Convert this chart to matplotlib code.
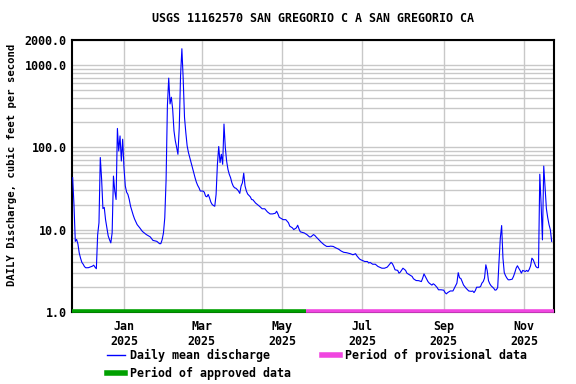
import numpy as np
import pandas as pd
import matplotlib
matplotlib.use('Agg')
import matplotlib.pyplot as plt
from matplotlib.lines import Line2D
from matplotlib.ticker import LogLocator, NullFormatter

# daily mean discharge (day offset from 2024-11-23, cfs)
day_offset = [0, 1, 2, 3, 4, 5, 6, 7, 8, 9, 10, 12, 13, 15, 16, 17, 18, 19, 20, 21,
              22, 23, 24, 25, 26, 27, 28, 29, 30, 31, 32, 33, 34, 35, 36, 37, 38, 39, 40, 41,
              42, 43, 44, 45, 46, 47, 49, 51, 53, 56, 59, 61, 64, 66, 67, 68, 69, 70, 71, 72,
              73, 74, 75, 76, 77, 78, 79, 80, 81, 82, 83, 84, 85, 86, 87, 88, 89, 90, 91, 92,
              93, 94, 95, 96, 97, 99, 100, 101, 102, 103, 104, 105, 106, 107, 108, 109, 110, 111, 112, 113,
              114, 115, 116, 117, 118, 119, 120, 121, 122, 123, 124, 125, 126, 127, 128, 129, 130, 131, 132, 133,
              135, 136, 137, 139, 141, 142, 144, 146, 148, 150, 152, 154, 155, 156, 157, 160, 162, 164, 165, 167,
              168, 170, 171, 172, 173, 176, 178, 180, 181, 183, 184, 185, 187, 189, 191, 193, 195, 196, 198, 200,
              202, 204, 206, 208, 211, 213, 215, 216, 218, 219, 222, 224, 225, 226, 228, 230, 232, 235, 237, 239,
              240, 242, 243, 244, 245, 247, 248, 249, 251, 252, 253, 254, 256, 258, 259, 261, 263, 265, 266, 267,
              268, 270, 271, 273, 274, 275, 277, 278, 280, 282, 283, 284, 285, 287, 289, 290, 292, 293, 294, 295,
              296, 297, 299, 301, 303, 304, 305, 306, 307, 309, 310, 311, 312, 313, 314, 315, 316, 317, 318, 320,
              321, 322, 323, 324, 325, 326, 327, 328, 329, 330, 331, 332, 334, 335, 336, 337, 338, 339, 340, 341,
              342, 344, 345, 346, 347, 348, 349, 350, 351, 352, 353, 354, 355, 356, 357, 358, 359, 360, 361, 362,
              363, 364]
discharge = [42.7, 20, 7.2, 7.6, 6.7, 5.2, 4.5, 4.0, 3.8, 3.55, 3.44, 3.45, 3.5, 3.6, 3.7, 3.5, 3.35, 8.7, 12.1, 75,
             41, 18, 18.6, 13.2, 10.5, 8.4, 7.55, 6.9, 9.1, 44.6, 29.4, 23.2, 169, 90, 137, 68, 125, 56.5, 33.8, 28.5,
             26.7, 23.2, 19.2, 17, 15, 13.5, 11.5, 10.5, 9.5, 8.7, 8.15, 7.4, 7.2, 6.75, 6.75, 7.55, 9.1, 13.9, 40, 319,
             689, 335, 404, 290, 158, 120, 100, 82, 173, 741, 1567, 676, 230, 150, 104, 86, 75, 65, 56.5, 49.2,
             42.7, 37.7, 34.4, 32.2, 29.4, 29.4, 28.5, 25.5, 25, 26.7, 24.3, 21.6, 20.2, 19.6, 19.2, 26.7, 62, 102, 65, 82,
             62, 191, 99, 68, 54, 47, 42.7, 37, 33.8, 32.2, 31.8, 30.7, 29.4, 27.5, 33.8, 37, 48.4, 33.8, 29.4, 27,
             25, 23.2, 23, 21, 19.8, 19.2, 17.9, 17.9, 16.4, 15.5, 15.5, 15.8, 16.7, 15.5, 14.1, 13.2, 13.2, 12.1, 11, 10.5,
             10, 10.5, 11.3, 10.2, 9.4, 9.1, 8.7, 8.15, 8.15, 8.7, 8.5, 8.15, 7.55, 7.0, 6.56, 6.25, 6.25, 6.3, 6.25, 6.0,
             5.8, 5.5, 5.3, 5.25, 5.1, 4.95, 5.1, 4.8, 4.4, 4.3, 4.1, 4.1, 3.93, 4.0, 3.8, 3.8, 3.57, 3.4, 3.4, 3.5,
             3.65, 4.0, 3.85, 3.57, 3.25, 3.2, 2.96, 3.05, 3.4, 3.3, 3.2, 2.96, 2.83, 2.7, 2.53, 2.41, 2.4, 2.34, 2.58, 2.9,
             2.7, 2.34, 2.24, 2.12, 2.2, 2.15, 1.98, 1.86, 1.86, 1.84, 1.72, 1.66, 1.72, 1.8, 1.8, 1.94, 2.24, 3.0, 2.6, 2.55,
             2.34, 2.13, 1.94, 1.8, 1.78, 1.8, 1.72, 1.82, 2.0, 2.0, 2.04, 2.24, 2.34, 2.58, 3.74, 3.2, 2.4, 2.2, 2.08, 1.94,
             1.84, 1.86, 1.98, 4.1, 7.9, 11.2, 4.5, 3.0, 2.75, 2.58, 2.46, 2.46, 2.5, 2.7, 3.0, 3.4, 3.64, 3.4, 3.2, 2.96,
             3.2, 3.1, 3.2, 3.1, 3.3, 3.64, 4.5, 4.3, 3.93, 3.57, 3.45, 3.45, 47, 20, 7.5, 59, 32, 18, 14, 11.5,
             10, 7.2]

start_date = '2024-11-23'
approved_end = '2025-05-19'
end_date = '2025-11-23'
month_ticks = ['2025-01-01', '2025-03-01', '2025-05-01', '2025-07-01', '2025-09-01', '2025-11-01']
month_labels = ['Jan\n2025', 'Mar\n2025', 'May\n2025', 'Jul\n2025', 'Sep\n2025', 'Nov\n2025']
y_ticks = [1, 10, 100, 1000, 2000]
y_labels = ['1.0', '10.0', '100.0', '1000.0', '2000.0']

plt.rcParams['font.family'] = ['DejaVu Sans Mono']
plt.rcParams['font.weight'] = 'bold'
fs = 8.4

start = pd.Timestamp(start_date)
dates = start + pd.to_timedelta(day_offset, unit='D')
x_left = start - pd.Timedelta(hours=12)
x_right = pd.Timestamp(end_date) + pd.Timedelta(hours=19)

fig = plt.figure(figsize=(5.76, 3.84), dpi=100)
ax = fig.add_axes([72/576, 1 - 312/384, 482/576, 272/384])

ax.plot(dates, discharge, color='#0000ff', lw=0.8, zorder=3)

ax.set_yscale('log')
ax.set_ylim(1, 2000)
ax.set_xlim(x_left, x_right)

# approval status bar along the bottom
bar_y = 1.04
ax.plot([x_left, pd.Timestamp(approved_end)], [bar_y, bar_y],
        color='#00a000', lw=2.6, solid_capstyle='butt', zorder=4, clip_on=False)
ax.plot([pd.Timestamp(approved_end), x_right], [bar_y, bar_y],
        color='#f046e0', lw=2.6, solid_capstyle='butt', zorder=4, clip_on=False)

ax.set_xticks(pd.to_datetime(month_ticks))
ax.set_xticklabels(month_labels, fontsize=fs, fontweight='bold')
ax.set_yticks(y_ticks)
ax.set_yticklabels(y_labels, fontsize=fs, fontweight='bold')
ax.yaxis.set_minor_locator(LogLocator(base=10, subs=np.arange(2, 10)))
ax.yaxis.set_minor_formatter(NullFormatter())
ax.tick_params(axis='both', which='both', length=0)
ax.tick_params(axis='x', pad=6)
ax.tick_params(axis='y', pad=4)

ax.grid(True, which='both', color='#c8c8c8', lw=1.0)
ax.set_axisbelow(True)
for s in ax.spines.values():
    s.set_linewidth(1.5)
    s.set_color('black')

fig.text(313/576, 1 - 19/384, 'USGS 11162570 SAN GREGORIO C A SAN GREGORIO CA',
         ha='center', va='center', fontsize=fs, fontweight='bold')
fig.text(12/576, 1 - 165/384, 'DAILY Discharge, cubic feet per second',
         rotation=90, ha='center', va='center', fontsize=7.6, fontweight='bold')

handles = [Line2D([], [], color='#0000ff', lw=1.0),
           Line2D([], [], color='#00a000', lw=4),
           Line2D([], [], color='#f046e0', lw=4)]
labels = ['Daily mean discharge', 'Period of approved data', 'Period of provisional data']
fig.legend(handles, labels, loc='upper left', bbox_to_anchor=(107/576, 1 - 349/384),
           ncol=2, frameon=False, fontsize=fs, handlelength=1.55, handletextpad=0.45,
           columnspacing=2.6, labelspacing=0.4, borderpad=0, borderaxespad=0)

fig.savefig('out.png', dpi=100)
